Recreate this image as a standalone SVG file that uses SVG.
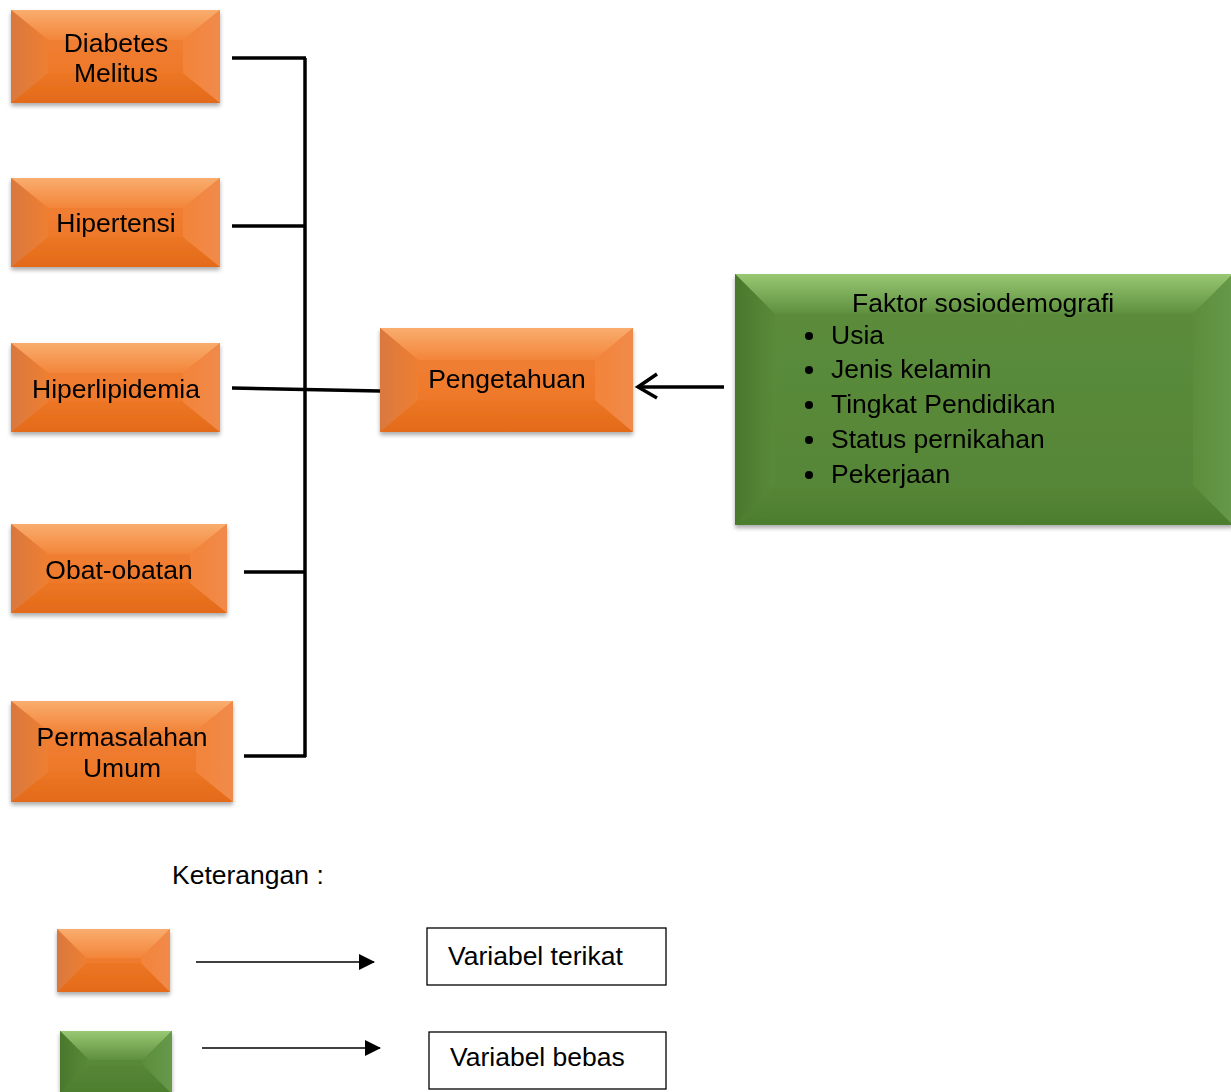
<svg xmlns="http://www.w3.org/2000/svg" width="1231" height="1092" viewBox="0 0 1231 1092">
<defs>
<style>
text{font-family:"Liberation Sans",Arial,sans-serif;font-size:26.5px;fill:#000}
.c{text-anchor:middle}
.o .base{fill:url(#oBase)}
.o .top{fill:url(#oTop)}
.o .bot{fill:url(#oBot)}
.o .lft{fill:url(#oLft)}
.o .rgt{fill:url(#oRgt)}
.g .base{fill:url(#gBase)}
.g .top{fill:url(#gTop)}
.g .bot{fill:url(#gBot)}
.g .lft{fill:url(#gLft)}
.g .rgt{fill:url(#gRgt)}
.box{filter:url(#sh)}
.ln{stroke:#000;stroke-width:3.5;fill:none}
.thin{stroke:#000;stroke-width:1.4;fill:none}
.leg{fill:#fff;stroke:#000;stroke-width:1.3}
</style>
<filter id="sh" x="-10%" y="-10%" width="120%" height="130%">
<feDropShadow dx="0" dy="3" stdDeviation="2.2" flood-color="#000" flood-opacity="0.33"/>
</filter>
<linearGradient id="oBase" x1="0" y1="0" x2="0" y2="1"><stop offset="0" stop-color="#f3843a"/><stop offset="1" stop-color="#eb7322"/></linearGradient>
<linearGradient id="oTop" x1="0" y1="0" x2="0" y2="1"><stop offset="0" stop-color="#f9ad6e"/><stop offset="1" stop-color="#f3853a"/></linearGradient>
<linearGradient id="oBot" x1="0" y1="0" x2="0" y2="1"><stop offset="0" stop-color="#ec7624"/><stop offset="1" stop-color="#e36a19"/></linearGradient>
<linearGradient id="oLft" x1="0" y1="0" x2="1" y2="0"><stop offset="0" stop-color="#d9783e"/><stop offset="1" stop-color="#ee7f32"/></linearGradient>
<linearGradient id="oRgt" x1="0" y1="0" x2="1" y2="0"><stop offset="0" stop-color="#f3843a"/><stop offset="1" stop-color="#f08a4a"/></linearGradient>
<linearGradient id="gBase" x1="0" y1="0" x2="0" y2="1"><stop offset="0" stop-color="#5c8d3c"/><stop offset="1" stop-color="#558536"/></linearGradient>
<linearGradient id="gTop" x1="0" y1="0" x2="0" y2="1"><stop offset="0" stop-color="#98c872"/><stop offset="1" stop-color="#5e8f3e"/></linearGradient>
<linearGradient id="gBot" x1="0" y1="0" x2="0" y2="1"><stop offset="0" stop-color="#568637"/><stop offset="1" stop-color="#4d7d2e"/></linearGradient>
<linearGradient id="gLft" x1="0" y1="0" x2="1" y2="0"><stop offset="0" stop-color="#4a782c"/><stop offset="1" stop-color="#598a39"/></linearGradient>
<linearGradient id="gRgt" x1="0" y1="0" x2="1" y2="0"><stop offset="0" stop-color="#5c8d3c"/><stop offset="1" stop-color="#67994a"/></linearGradient>
<marker id="ah" viewBox="0 0 16 16" refX="15" refY="8" markerWidth="16" markerHeight="16" markerUnits="userSpaceOnUse" orient="auto"><path d="M0,0 L16,8 L0,16 Z" fill="#000"/></marker>
</defs>
<rect width="1231" height="1092" fill="#fff"/>

<g id="connectors">
<path class="ln" d="M305,58 V757" stroke-width="3"/>
<path class="ln" d="M232,58 H306"/>
<path class="ln" d="M232,226 H306"/>
<path class="ln" d="M232,388 L380,391"/>
<path class="ln" d="M244,572 H306"/>
<path class="ln" d="M244,756 H306"/>
<path class="ln" d="M724,387 H638"/>
<path class="ln" d="M657,374 L638,387 L657,398" stroke-linejoin="miter"/>
</g>

<g id="n-diabetes" class="o box" transform="translate(11,10)">
<rect class="base" width="209" height="93"/>
<polygon class="top" points="0,0 209,0 172,30 37,30"/>
<polygon class="bot" points="0,93 209,93 172,63 37,63"/>
<polygon class="lft" points="0,0 37,30 37,63 0,93"/>
<polygon class="rgt" points="209,0 172,30 172,63 209,93"/>
<text class="c" x="105" y="42">Diabetes</text>
<text class="c" x="105" y="72">Melitus</text>
</g>

<g id="n-hipertensi" class="o box" transform="translate(11,178)">
<rect class="base" width="209" height="89"/>
<polygon class="top" points="0,0 209,0 172,30 37,30"/>
<polygon class="bot" points="0,89 209,89 172,59 37,59"/>
<polygon class="lft" points="0,0 37,30 37,59 0,89"/>
<polygon class="rgt" points="209,0 172,30 172,59 209,89"/>
<text class="c" x="105" y="54">Hipertensi</text>
</g>

<g id="n-hiperlipidemia" class="o box" transform="translate(11,343)">
<rect class="base" width="209" height="89"/>
<polygon class="top" points="0,0 209,0 172,30 37,30"/>
<polygon class="bot" points="0,89 209,89 172,59 37,59"/>
<polygon class="lft" points="0,0 37,30 37,59 0,89"/>
<polygon class="rgt" points="209,0 172,30 172,59 209,89"/>
<text class="c" x="105" y="55">Hiperlipidemia</text>
</g>

<g id="n-obat" class="o box" transform="translate(11,524)">
<rect class="base" width="216" height="89"/>
<polygon class="top" points="0,0 216,0 179,30 37,30"/>
<polygon class="bot" points="0,89 216,89 179,59 37,59"/>
<polygon class="lft" points="0,0 37,30 37,59 0,89"/>
<polygon class="rgt" points="216,0 179,30 179,59 216,89"/>
<text class="c" x="108" y="55">Obat-obatan</text>
</g>

<g id="n-permasalahan" class="o box" transform="translate(11,701)">
<rect class="base" width="222" height="101"/>
<polygon class="top" points="0,0 222,0 185,30 37,30"/>
<polygon class="bot" points="0,101 222,101 185,71 37,71"/>
<polygon class="lft" points="0,0 37,30 37,71 0,101"/>
<polygon class="rgt" points="222,0 185,30 185,71 222,101"/>
<text class="c" x="111" y="45">Permasalahan</text>
<text class="c" x="111" y="76">Umum</text>
</g>

<g id="n-pengetahuan" class="o box" transform="translate(380,328)">
<rect class="base" width="253" height="104"/>
<polygon class="top" points="0,0 253,0 215,32 38,32"/>
<polygon class="bot" points="0,104 253,104 215,72 38,72"/>
<polygon class="lft" points="0,0 38,32 38,72 0,104"/>
<polygon class="rgt" points="253,0 215,32 215,72 253,104"/>
<text class="c" x="127" y="60">Pengetahuan</text>
</g>

<g id="n-faktor" class="g box" transform="translate(735,274)">
<rect class="base" width="498" height="251"/>
<polygon class="top" points="0,0 498,0 458,40 40,40"/>
<polygon class="bot" points="0,251 498,251 458,211 40,211"/>
<polygon class="lft" points="0,0 40,40 40,211 0,251"/>
<polygon class="rgt" points="498,0 458,40 458,211 498,251"/>
<text x="117" y="38">Faktor sosiodemografi</text>
<circle cx="74" cy="62" r="4"/>
<circle cx="74" cy="96" r="4"/>
<circle cx="74" cy="131" r="4"/>
<circle cx="74" cy="166" r="4"/>
<circle cx="74" cy="201" r="4"/>
<text x="96" y="70">Usia</text>
<text x="96" y="104">Jenis kelamin</text>
<text x="96" y="139">Tingkat Pendidikan</text>
<text x="96" y="174">Status pernikahan</text>
<text x="96" y="209">Pekerjaan</text>
</g>

<g id="legend">
<text x="172" y="884">Keterangan :</text>
<g id="leg-orange" class="o box" transform="translate(57,929)">
<rect class="base" width="113" height="63"/>
<polygon class="top" points="0,0 113,0 84,29 29,29"/>
<polygon class="bot" points="0,63 113,63 84,34 29,34"/>
<polygon class="lft" points="0,0 29,29 29,34 0,63"/>
<polygon class="rgt" points="113,0 84,29 84,34 113,63"/>
</g>
<g id="leg-green" class="g box" transform="translate(60,1031)">
<rect class="base" width="112" height="63"/>
<polygon class="top" points="0,0 112,0 83,29 29,29"/>
<polygon class="bot" points="0,63 112,63 83,34 29,34"/>
<polygon class="lft" points="0,0 29,29 29,34 0,63"/>
<polygon class="rgt" points="112,0 83,29 83,34 112,63"/>
</g>
<path class="thin" d="M196,962 H374" marker-end="url(#ah)"/>
<path class="thin" d="M202,1048 H380" marker-end="url(#ah)"/>
<g id="leg-terikat">
<rect class="leg" x="427" y="928" width="239" height="57"/>
<text x="448" y="965">Variabel terikat</text>
</g>
<g id="leg-bebas">
<rect class="leg" x="429" y="1032" width="237" height="57"/>
<text x="450" y="1066">Variabel bebas</text>
</g>
</g>
</svg>
